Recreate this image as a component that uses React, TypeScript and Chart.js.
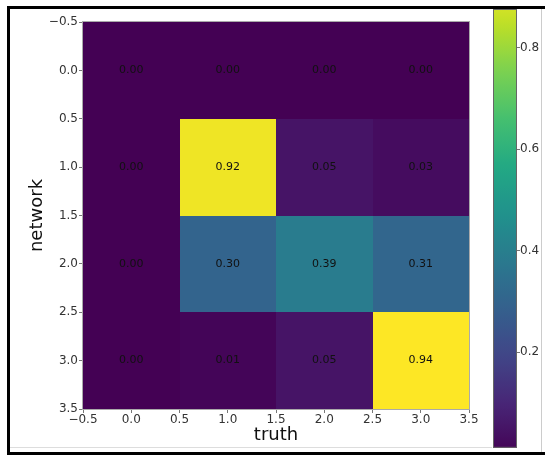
import React, { useEffect, useRef } from "react";
import { Chart, registerables } from "chart.js";
Chart.register(...registerables);

// ---- data ----
const truthCategories = [0, 1, 2, 3];
const networkCategories = [0, 1, 2, 3];
const networkRow0 = [0.0, 0.0, 0.0, 0.0];
const networkRow1 = [0.0, 0.92, 0.05, 0.03];
const networkRow2 = [0.0, 0.3, 0.39, 0.31];
const networkRow3 = [0.0, 0.01, 0.05, 0.94];
const matrixRows = [networkRow0, networkRow1, networkRow2, networkRow3];
const axisTicks = [-0.5, 0, 0.5, 1, 1.5, 2, 2.5, 3, 3.5];
const colorbarTicks = [0.2, 0.4, 0.6, 0.8];
const colorMin = 0;
const colorMax = 0.94;
const colorbarShownMin = 0.012;
const colorbarShownMax = 0.876;

const VIRIDIS = [
  "#440154", "#482475", "#414487", "#355f8d", "#2a788e", "#21918c",
  "#22a884", "#44bf70", "#7ad151", "#bddf26", "#fde725",
];
function hexRgb(h: string) {
  return [parseInt(h.slice(1, 3), 16), parseInt(h.slice(3, 5), 16), parseInt(h.slice(5, 7), 16)];
}
function viridis(t: number) {
  const c = Math.max(0, Math.min(1, t)) * (VIRIDIS.length - 1);
  const i = Math.min(VIRIDIS.length - 2, Math.floor(c));
  const f = c - i;
  const a = hexRgb(VIRIDIS[i]);
  const b = hexRgb(VIRIDIS[i + 1]);
  const r = a.map((v, k) => Math.round(v + (b[k] - v) * f));
  return `rgb(${r[0]},${r[1]},${r[2]})`;
}
const norm = (v: number) => (v - colorMin) / (colorMax - colorMin);
const fmt1 = (v: number) => (v < 0 ? "\u2212" : "") + Math.abs(v).toFixed(1);
const FONT = "'DejaVu Sans', sans-serif";

const heatmapPlugin = {
  id: "heatmapCells",
  beforeDatasetsDraw(chart: any) {
    const { ctx, scales } = chart;
    const xs = scales.x, ys = scales.y;
    const pts = chart.data.datasets[0].data as any[];
    ctx.save();
    for (const p of pts) {
      const x0 = Math.round(xs.getPixelForValue(p.x - 0.5)), x1 = Math.round(xs.getPixelForValue(p.x + 0.5));
      const y0 = Math.round(ys.getPixelForValue(p.y - 0.5)), y1 = Math.round(ys.getPixelForValue(p.y + 0.5));
      ctx.fillStyle = viridis(norm(p.v));
      ctx.fillRect(Math.min(x0, x1), Math.min(y0, y1), Math.abs(x1 - x0), Math.abs(y1 - y0));
    }
    ctx.restore();
  },
  afterDatasetsDraw(chart: any) {
    const { ctx, scales, chartArea } = chart;
    const xs = scales.x, ys = scales.y;
    const pts = chart.data.datasets[0].data as any[];
    ctx.save();
    ctx.font = `11px ${FONT}`;
    ctx.fillStyle = "#111";
    ctx.textAlign = "center";
    ctx.textBaseline = "middle";
    for (const p of pts) {
      ctx.fillText(p.v.toFixed(2), xs.getPixelForValue(p.x), ys.getPixelForValue(p.y));
    }
    ctx.strokeStyle = "#aaa";
    ctx.lineWidth = 1;
    const l = Math.round(chartArea.left), t = Math.round(chartArea.top);
    const r = Math.round(chartArea.right), b = Math.round(chartArea.bottom);
    ctx.strokeRect(l - 0.5, t - 0.5, r - l + 1, b - t + 1);
    ctx.restore();
  },
};

const colorbarPlugin = {
  id: "colorbarFill",
  beforeDatasetsDraw(chart: any) {
    const { ctx, chartArea, scales } = chart;
    const ys = scales.y;
    const yb = ys.getPixelForValue(colorbarShownMin);
    const yt = ys.getPixelForValue(colorbarShownMax);
    const g = ctx.createLinearGradient(0, yb, 0, yt);
    const n = 40;
    for (let i = 0; i <= n; i++) {
      const v = colorbarShownMin + ((colorbarShownMax - colorbarShownMin) * i) / n;
      g.addColorStop(i / n, viridis(norm(v)));
    }
    ctx.save();
    ctx.fillStyle = g;
    ctx.fillRect(chartArea.left, chartArea.top, chartArea.right - chartArea.left, chartArea.bottom - chartArea.top);
    ctx.strokeStyle = "#666";
    ctx.lineWidth = 1;
    ctx.strokeRect(chartArea.left + 0.5, chartArea.top + 0.5, chartArea.right - chartArea.left - 1, chartArea.bottom - chartArea.top - 1);
    ctx.restore();
  },
};

export default function App() {
  const mainRef = useRef<HTMLCanvasElement>(null);
  const cbRef = useRef<HTMLCanvasElement>(null);

  useEffect(() => {
    const cells: any[] = [];
    networkCategories.forEach((r, ri) => {
      truthCategories.forEach((c, ci) => {
        cells.push({ x: c, y: r, v: matrixRows[ri][ci] });
      });
    });
    const tickFont = { family: FONT, size: 12 };
    const main = new Chart(mainRef.current!, {
      type: "scatter",
      data: { datasets: [{ data: cells, pointRadius: 0, pointHoverRadius: 0 }] },
      options: {
        responsive: false,
        animation: false,
        events: [],
        layout: { padding: { left: 10, right: 76, top: 22, bottom: 0 } },
        plugins: { legend: { display: false }, tooltip: { enabled: false } },
        scales: {
          x: {
            type: "linear",
            min: -0.5,
            max: 3.5,
            afterBuildTicks: (s: any) => { s.ticks = axisTicks.map((v) => ({ value: v })); },
            afterFit: (s: any) => { s.height = 46; },
            ticks: { font: tickFont, color: "#333", padding: 0, maxRotation: 0, autoSkip: false, callback: (v: any) => fmt1(Number(v)) },
            grid: { drawOnChartArea: false, drawTicks: true, tickLength: 4, color: "#777" },
            border: { display: false },
            title: { display: true, text: "truth", font: { family: FONT, size: 18 }, color: "#111", padding: { top: 0, bottom: 9 } },
          },
          y: {
            type: "linear",
            reverse: true,
            min: -0.5,
            max: 3.5,
            afterBuildTicks: (s: any) => { s.ticks = axisTicks.map((v) => ({ value: v })); },
            afterFit: (s: any) => { s.width = 73; },
            ticks: { font: tickFont, color: "#333", padding: 1, autoSkip: false, callback: (v: any) => fmt1(Number(v)) },
            grid: { drawOnChartArea: false, drawTicks: true, tickLength: 4, color: "#777" },
            border: { display: false },
            title: { display: true, text: "network", font: { family: FONT, size: 18 }, color: "#111", padding: { top: 17, bottom: 0 } },
          },
        },
      },
      plugins: [heatmapPlugin],
    } as any);

    const cb = new Chart(cbRef.current!, {
      type: "scatter",
      data: { datasets: [{ data: [], pointRadius: 0 }] },
      options: {
        responsive: false,
        animation: false,
        events: [],
        layout: { padding: { left: 13, right: 0, top: 9, bottom: 6 } },
        plugins: { legend: { display: false }, tooltip: { enabled: false } },
        scales: {
          x: { type: "linear", display: false, min: 0, max: 1 },
          y: {
            type: "linear",
            position: "right",
            min: colorbarShownMin,
            max: colorbarShownMax,
            afterBuildTicks: (s: any) => { s.ticks = colorbarTicks.map((v) => ({ value: v })); },
            afterFit: (s: any) => { s.width = 28; },
            ticks: { font: tickFont, color: "#333", padding: 0, callback: (v: any) => Number(v).toFixed(1) },
            grid: { drawOnChartArea: false, drawTicks: true, tickLength: 3, color: "#777" },
            border: { display: false },
          },
        },
      },
      plugins: [colorbarPlugin],
    } as any);

    return () => {
      main.destroy();
      cb.destroy();
    };
  }, []);

  const line = (style: React.CSSProperties) => (
    <div style={{ position: "absolute", ...style }} />
  );

  return (
    <div style={{ position: "fixed", left: 0, top: 0, width: 545, height: 455, background: "#fff", overflow: "hidden" }}>
      <canvas ref={mainRef} width={545} height={455} style={{ position: "absolute", left: 0, top: 0, width: 545, height: 455 }} />
      <canvas ref={cbRef} width={65} height={455} style={{ position: "absolute", left: 480, top: 0, width: 65, height: 455 }} />
      {line({ left: 10, top: 447, width: 482, height: 1, background: "#ddd" })}
      {line({ left: 541, top: 9, width: 1, height: 443, background: "#ccc" })}
      {line({ left: 7, top: 6, width: 538, height: 3, background: "#000" })}
      {line({ left: 7, top: 6, width: 3, height: 449, background: "#000" })}
      {line({ left: 7, top: 452, width: 538, height: 3, background: "#000" })}
    </div>
  );
}
